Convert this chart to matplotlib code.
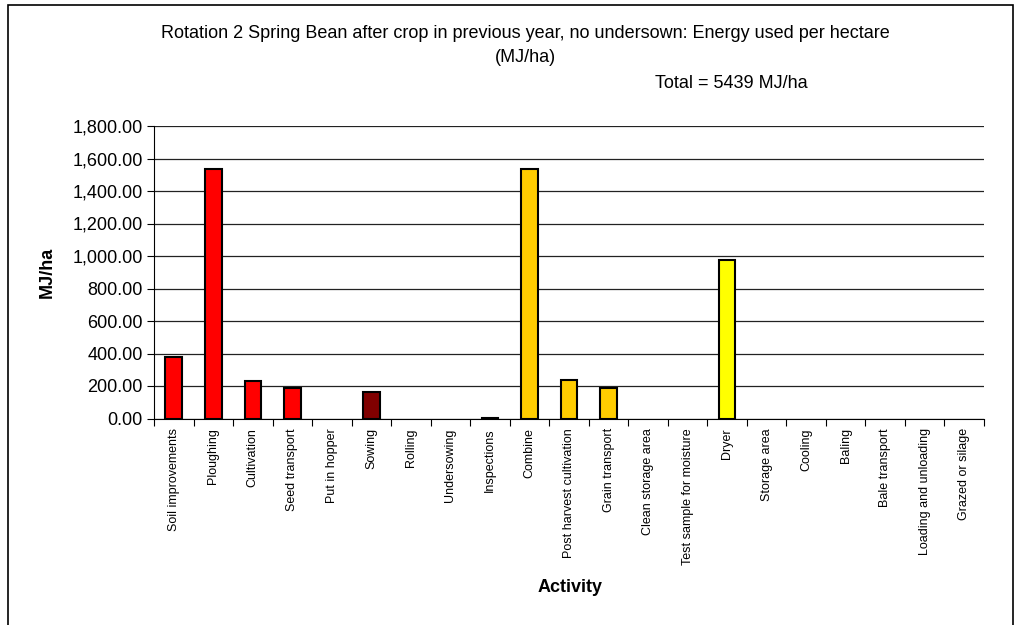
import matplotlib
matplotlib.use("Agg")
import matplotlib.pyplot as plt
from matplotlib.patches import Rectangle
from matplotlib.ticker import FuncFormatter, MultipleLocator

plt.rcParams['font.family'] = ['Liberation Sans', 'DejaVu Sans']

activities = ["Soil improvements", "Ploughing", "Cultivation", "Seed transport",
              "Put in hopper", "Sowing", "Rolling", "Undersowing", "Inspections",
              "Combine", "Post harvest cultivation", "Grain transport",
              "Clean storage area", "Test sample for moisture", "Dryer",
              "Storage area", "Cooling", "Baling", "Bale transport",
              "Loading and unloading", "Grazed or silage"]
energy = [380, 1533, 232, 190, 0, 165, 0, 0, 6, 1533, 237, 188,
          0, 0, 975, 0, 0, 0, 0, 0, 0]
colours = ["#FF0000"] * 5 + ["#800000"] * 4 + ["#FFCC00"] * 5 + ["#FFFF00"] * 7
total = 5439

fig = plt.figure(figsize=(10.19, 6.25), dpi=100)
ax = fig.add_axes([154 / 1019, 1 - 418.5 / 625, 830 / 1019, 292.5 / 625])

x = range(len(activities))
# empty activities get no outline so they leave no mark on the baseline
edge_widths = [1.5 if v > 0 else 0 for v in energy]
ax.bar(x, energy, width=0.42, color=colours, edgecolor="black",
       linewidth=edge_widths, zorder=3)

ax.set_xlim(-0.5, len(activities) - 0.5)
ax.set_ylim(0, 1800)
ax.yaxis.set_major_locator(MultipleLocator(200))
ax.yaxis.set_major_formatter(FuncFormatter(lambda v, p: f"{v:,.2f}"))
ax.grid(axis="y", color="#222222", linewidth=0.9, zorder=0)
ax.set_xticks([i - 0.5 for i in range(len(activities) + 1)], minor=False)
ax.set_xticklabels([])
ax.set_xticks(list(x), minor=True)
ax.set_xticklabels(activities, minor=True, rotation=90, fontsize=9)
ax.tick_params(axis="x", which="minor", length=0, pad=7)
ax.tick_params(axis="x", which="major", length=5, direction="out", color="black")
ax.tick_params(axis="y", labelsize=13, length=5, pad=3)

for side in ["top", "right"]:
    ax.spines[side].set_visible(False)
ax.spines["left"].set_color("black")
ax.spines["bottom"].set_color("black")

ax.set_ylabel("MJ/ha", fontsize=13, fontweight="bold")
ax.yaxis.set_label_coords(-98 / 830, (418.5 - 272) / 292.5)
fig.text(570 / 1019, 1 - 587 / 625, "Activity", fontsize=13, fontweight="bold",
         ha="center", va="center")

fig.text(525 / 1019, 1 - 33 / 625,
         "Rotation 2 Spring Bean after crop in previous year, no undersown: Energy used per hectare",
         fontsize=13, ha="center", va="center")
fig.text(525 / 1019, 1 - 58 / 625, "(MJ/ha)", fontsize=13, ha="center", va="center")
fig.text(731 / 1019, 1 - 83 / 625, f"Total = {total} MJ/ha", fontsize=13,
         ha="center", va="center")

fig.patches.append(Rectangle((8 / 1019, -0.05), 1005 / 1019, 1.05 - 5 / 625,
                             transform=fig.transFigure, fill=False,
                             edgecolor="black", linewidth=1.2))

fig.savefig("out.png", dpi=100, facecolor="white")
